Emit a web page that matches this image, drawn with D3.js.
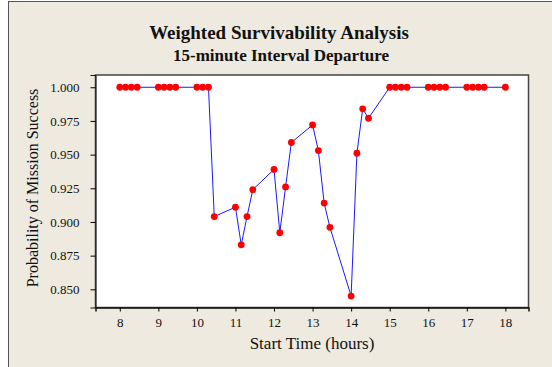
<!DOCTYPE html>
<html>
<head>
<meta charset="utf-8">
<script src="https://cdn.jsdelivr.net/npm/d3@7"></script>
<style>
  body { margin: 0; background: #fff; }
  text { font-family: "Liberation Serif", "Times New Roman", serif; fill: #111; }
</style>
</head>
<body>
<div id="chart"></div>
<script>
// start times, plotted as HH.MM decimals like the original
const startTimes = [8.00, 8.15, 8.30, 8.45, 9.00, 9.15, 9.30, 9.45, 10.00, 10.15, 10.30,
  10.45, 11.00, 11.15, 11.30, 11.45, 12.00, 12.15, 12.30, 12.45, 13.00, 13.15, 13.30, 13.45,
  14.00, 14.15, 14.30, 14.45, 15.00, 15.15, 15.30, 15.45, 16.00, 16.15, 16.30, 16.45,
  17.00, 17.15, 17.30, 17.45, 18.00];
const successProb = [1, 1, 1, 1, 1, 1, 1, 1, 1, 1, 1,
  0.904, 0.911, 0.883, 0.904, 0.924, 0.939, 0.892, 0.926, 0.959, 0.972, 0.953, 0.914, 0.896,
  0.845, 0.951, 0.984, 0.977, 1, 1, 1, 1, 1, 1, 1, 1,
  1, 1, 1, 1, 1];
const xTicks = [8, 9, 10, 11, 12, 13, 14, 15, 16, 17, 18];
const yTicks = [0.850, 0.875, 0.900, 0.925, 0.950, 0.975, 1.000];

const width = 552, height = 367;
const plot = { left: 95.5, right: 528.5, top: 75, bottom: 307.5 };

const data = startTimes.map((t, i) => [t, successProb[i]]);

const svg = d3.select("#chart").append("svg")
  .attr("width", width)
  .attr("height", height);

// figure background
svg.append("rect")
  .attr("x", 8.5).attr("y", 1.5)
  .attr("width", width + 10).attr("height", height + 10)
  .attr("fill", "#eeeae0")
  .attr("stroke", "#555")
  .attr("stroke-width", 1);

// SCALES
const xScale = d3.scaleLinear()
  .domain([7.37, 18.6])
  .range([plot.left, plot.right]);

const yScale = d3.scaleLinear()
  .domain([0.8365, 1.0091])
  .range([plot.bottom, plot.top]);

// data region
svg.append("rect")
  .attr("x", plot.left).attr("y", plot.top)
  .attr("width", plot.right - plot.left)
  .attr("height", plot.bottom - plot.top)
  .attr("fill", "#fff")
  .attr("stroke", "#444")
  .attr("stroke-width", 1.5);

// AXES
const xAxis = d3.axisBottom(xScale)
  .tickValues(xTicks)
  .tickFormat(d3.format("d"))
  .tickSize(4)
  .tickPadding(6);

const gx = svg.append("g")
  .attr("transform", "translate(0," + plot.bottom + ")")
  .call(xAxis);
gx.select(".domain").attr("stroke", "#111").attr("stroke-width", 1.5);
gx.selectAll("text").style("font-size", "13px");

const yAxis = d3.axisLeft(yScale)
  .tickValues(yTicks)
  .tickFormat(d3.format(".3f"))
  .tickSize(5)
  .tickPadding(11);

const gy = svg.append("g")
  .attr("transform", "translate(" + plot.left + ",0)")
  .call(yAxis);
gy.select(".domain").attr("stroke", "#111").attr("stroke-width", 1);
gy.selectAll("text").style("font-size", "13px");

// LINE AND POINTS
const line = d3.line()
  .x(d => xScale(d[0]))
  .y(d => yScale(d[1]));

svg.append("path")
  .datum(data)
  .attr("d", line)
  .attr("fill", "none")
  .attr("stroke", "#1a1aff")
  .attr("stroke-width", 1);

svg.selectAll("circle")
  .data(data)
  .enter()
  .append("circle")
  .attr("cx", d => xScale(d[0]))
  .attr("cy", d => yScale(d[1]))
  .attr("r", 3.4)
  .attr("fill", "#ff0000");

// TITLES
svg.append("text")
  .attr("x", 279).attr("y", 38.5)
  .attr("text-anchor", "middle")
  .style("font-size", "19px")
  .style("font-weight", "bold")
  .text("Weighted Survivability Analysis");

svg.append("text")
  .attr("x", 281).attr("y", 60.5)
  .attr("text-anchor", "middle")
  .style("font-size", "17px")
  .style("font-weight", "bold")
  .text("15-minute Interval Departure");

svg.append("text")
  .attr("x", (plot.left + plot.right) / 2).attr("y", 348.5)
  .attr("text-anchor", "middle")
  .style("font-size", "17px")
  .text("Start Time (hours)");

svg.append("text")
  .attr("transform", "translate(38," + 188 + ") rotate(-90)")
  .attr("text-anchor", "middle")
  .style("font-size", "16px")
  .text("Probability of Mission Success");
</script>
</body>
</html>
